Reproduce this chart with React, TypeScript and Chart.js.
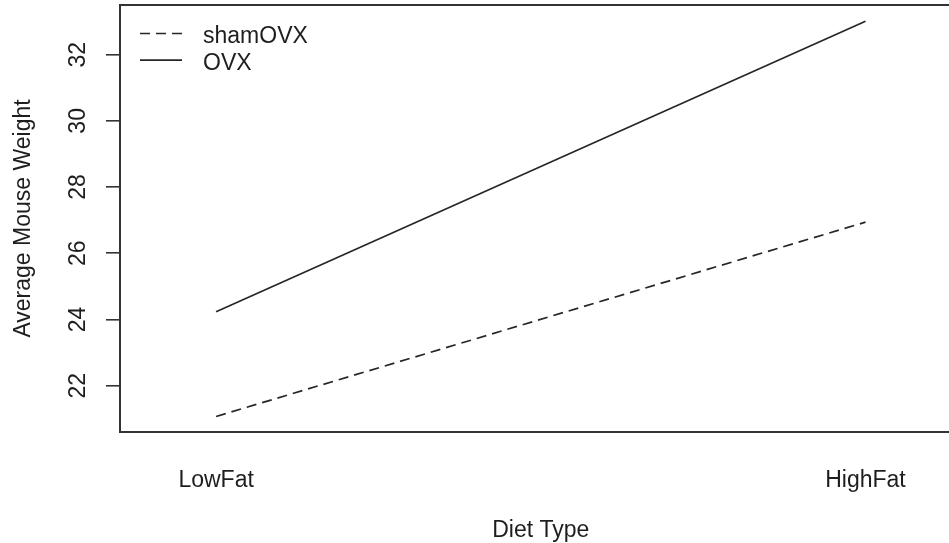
import React, { useEffect, useRef } from 'react';
import { Chart, registerables } from 'chart.js';

Chart.register(...registerables);

// Diet levels on the horizontal axis and where each one sits on the numeric scale
const categories = ['LowFat', 'HighFat'];
const categoryPositions = [1, 2];

// Mean body weight per diet for each surgery group
const seriesNames = ['shamOVX', 'OVX'];
const shamOVX = [21.07, 26.94];
const OVX = [24.23, 33.01];

const yTicks = [22, 24, 26, 28, 30, 32];
const xTitle = 'Diet Type';
const yTitle = 'Average Mouse Weight';

const FONT = '"Liberation Sans", Arial, Helvetica, sans-serif';
const INK = '#1e1e1e';
const LINE = '#262626';
const CANVAS_W = 980;
const CANVAS_H = 543;

// Draws the plot frame, rotated y tick labels and the inset legend
const framePlugin = {
  id: 'frame',
  afterDraw(chart: any) {
    const { ctx, chartArea } = chart;
    const { left, top, right, bottom } = chartArea;
    ctx.save();

    ctx.strokeStyle = '#333';
    ctx.lineWidth = 2;
    ctx.setLineDash([]);
    ctx.strokeRect(left, top, right - left, bottom - top);

    const yScale = chart.scales.y;
    ctx.fillStyle = INK;
    ctx.font = `23px ${FONT}`;
    ctx.textAlign = 'center';
    ctx.textBaseline = 'middle';
    for (const t of yScale.ticks) {
      const py = yScale.getPixelForValue(t.value);
      ctx.save();
      ctx.translate(79, py);
      ctx.rotate(-Math.PI / 2);
      ctx.fillText(String(t.value), 0, 0);
      ctx.restore();
    }

    chart.data.datasets.forEach((ds: any, i: number) => {
      const ly = top + 28.5 + i * 26.7;
      ctx.beginPath();
      ctx.strokeStyle = ds.borderColor;
      ctx.lineWidth = ds.borderWidth;
      ctx.setLineDash(ds.borderDash || []);
      ctx.moveTo(left + 20, ly);
      ctx.lineTo(left + 62, ly);
      ctx.stroke();
      ctx.setLineDash([]);
      ctx.fillStyle = INK;
      ctx.textAlign = 'left';
      ctx.textBaseline = 'alphabetic';
      ctx.fillText(ds.label, left + 83, top + 38.3 + i * 26.7);
    });

    ctx.restore();
  },
};

export default function App() {
  const canvasRef = useRef<HTMLCanvasElement | null>(null);

  useEffect(() => {
    const canvas = canvasRef.current;
    if (!canvas) return;

    const toPoints = (vals: number[]) =>
      vals.map((v, i) => ({ x: categoryPositions[i], y: v }));

    const chart = new Chart(canvas, {
      type: 'line',
      data: {
        datasets: [
          {
            label: seriesNames[0],
            data: toPoints(shamOVX),
            borderColor: LINE,
            borderWidth: 1.7,
            borderDash: [10, 6],
            pointRadius: 0,
            fill: false,
            tension: 0,
          },
          {
            label: seriesNames[1],
            data: toPoints(OVX),
            borderColor: LINE,
            borderWidth: 1.7,
            pointRadius: 0,
            fill: false,
            tension: 0,
          },
        ],
      },
      options: {
        responsive: false,
        animation: false,
        devicePixelRatio: 1,
        layout: { padding: { left: 0, top: 5, right: CANVAS_W - 961.6, bottom: 0 } },
        plugins: {
          legend: { display: false },
          tooltip: { enabled: false },
        },
        scales: {
          x: {
            type: 'linear',
            position: 'bottom',
            min: 0.852,
            max: 2.148,
            afterBuildTicks: (s: any) => {
              s.ticks = categoryPositions.map((v) => ({ value: v }));
            },
            afterFit: (s: any) => {
              s.height = 111;
            },
            ticks: {
              autoSkip: false,
              maxRotation: 0,
              minRotation: 0,
              padding: 27,
              color: INK,
              font: { family: FONT, size: 23 },
              callback: (v: any) => {
                const idx = categoryPositions.indexOf(Number(v));
                return idx >= 0 ? categories[idx] : '';
              },
            },
            grid: { display: false },
            border: { display: false },
            title: {
              display: true,
              text: xTitle,
              color: INK,
              font: { family: FONT, size: 23, lineHeight: 1.1 },
              padding: { top: 0, bottom: 0 },
            },
          },
          y: {
            type: 'linear',
            min: 20.6,
            max: 33.5,
            afterBuildTicks: (s: any) => {
              s.ticks = yTicks.map((v) => ({ value: v }));
            },
            afterFit: (s: any) => {
              s.width = 120;
            },
            ticks: { display: false },
            grid: {
              drawOnChartArea: false,
              drawTicks: true,
              tickLength: 14,
              color: '#333',
              lineWidth: 1.6,
            },
            border: { display: false },
            title: {
              display: true,
              text: yTitle,
              color: INK,
              font: { family: FONT, size: 23, lineHeight: 1.1 },
              padding: { top: 11, bottom: 0 },
            },
          },
        },
      },
      plugins: [framePlugin],
    });

    return () => chart.destroy();
  }, []);

  return (
    <div
      style={{
        position: 'fixed',
        left: 0,
        top: 0,
        width: 949,
        height: 543,
        overflow: 'hidden',
        background: '#fff',
      }}
    >
      <canvas
        ref={canvasRef}
        width={CANVAS_W}
        height={CANVAS_H}
        style={{ display: 'block', width: CANVAS_W, height: CANVAS_H }}
      />
    </div>
  );
}
